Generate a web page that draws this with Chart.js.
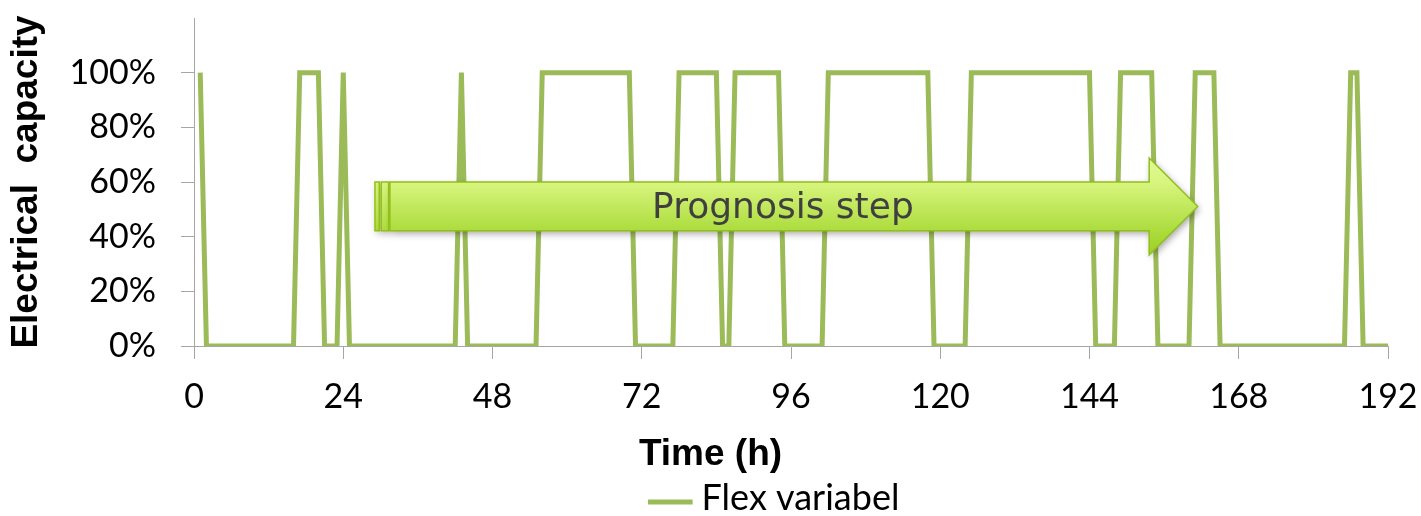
<!DOCTYPE html>
<html>
<head>
<meta charset="utf-8">
<script src="https://cdn.jsdelivr.net/npm/chart.js@4/dist/chart.umd.min.js"></script>
<style>
  html, body { margin: 0; padding: 0; background: #fff; }
</style>
</head>
<body>
<canvas id="chart" width="1421" height="516"></canvas>
<script>
// hourly flex operation, hour 1..192 (100 = full electrical capacity), one row per day
const flexValues = [
  100, 0, 0, 0, 0, 0, 0, 0, 0, 0, 0, 0, 0, 0, 0, 0, 100, 100, 100, 100, 0, 0, 0, 100,
  0, 0, 0, 0, 0, 0, 0, 0, 0, 0, 0, 0, 0, 0, 0, 0, 0, 0, 100, 0, 0, 0, 0, 0,
  0, 0, 0, 0, 0, 0, 0, 100, 100, 100, 100, 100, 100, 100, 100, 100, 100, 100, 100, 100, 100, 100, 0, 0,
  0, 0, 0, 0, 0, 100, 100, 100, 100, 100, 100, 100, 0, 0, 100, 100, 100, 100, 100, 100, 100, 100, 0, 0,
  0, 0, 0, 0, 0, 100, 100, 100, 100, 100, 100, 100, 100, 100, 100, 100, 100, 100, 100, 100, 100, 100, 0, 0,
  0, 0, 0, 0, 100, 100, 100, 100, 100, 100, 100, 100, 100, 100, 100, 100, 100, 100, 100, 100, 100, 100, 100, 100,
  0, 0, 0, 0, 100, 100, 100, 100, 100, 100, 0, 0, 0, 0, 0, 0, 100, 100, 100, 100, 0, 0, 0, 0,
  0, 0, 0, 0, 0, 0, 0, 0, 0, 0, 0, 0, 0, 0, 0, 0, 0, 100, 100, 0, 0, 0, 0, 0
];
const hours = flexValues.map((v, i) => i + 1);
const hourTicks = [0, 24, 48, 72, 96, 120, 144, 168, 192];
const capacityTicks = [0, 20, 40, 60, 80, 100];

// "Prognosis step" arrow, in hours / percent
const arrowX = { start: 29.1, stripe1End: 29.8, stripe2Start: 30.1, stripe2End: 31.3, body: 31.5, headBase: 153.6, tip: 161.4 };
const arrowY = { headTop: 68.8, bodyTop: 60, bodyBottom: 42.2, headBottom: 33.3 };
const arrowLabel = 'Prognosis step';

const lineColor = '#9bbb59';
const axisColor = '#a6a6a6';

// legend sample: short line with a small gap before the text
const legendLine = document.createElement('canvas');
legendLine.width = 71;
legendLine.height = 16;
(function () {
  const c = legendLine.getContext('2d');
  c.strokeStyle = lineColor;
  c.lineWidth = 5;
  c.beginPath();
  c.moveTo(0, 12);
  c.lineTo(45, 12);
  c.stroke();
})();

const arrowPlugin = {
  id: 'prognosisArrow',
  afterDatasetsDraw(chart) {
    const ctx = chart.ctx;
    const xs = chart.scales.x;
    const ys = chart.scales.y;
    const px = (h) => xs.getPixelForValue(h);
    const py = (v) => ys.getPixelForValue(v);

    const ht = py(arrowY.headTop), hb = py(arrowY.headBottom);
    const bt = py(arrowY.bodyTop), bb = py(arrowY.bodyBottom);
    const mid = (ht + hb) / 2;

    const grad = ctx.createLinearGradient(0, ht, 0, hb);
    grad.addColorStop(0, '#e1fa95');
    grad.addColorStop(0.25, '#d8f57f');
    grad.addColorStop(0.75, '#acdc3d');
    grad.addColorStop(1, '#9dd024');

    const shapes = [];
    shapes.push((c) => c.rect(px(arrowX.start), bt, px(arrowX.stripe1End) - px(arrowX.start), bb - bt));
    shapes.push((c) => c.rect(px(arrowX.stripe2Start), bt, px(arrowX.stripe2End) - px(arrowX.stripe2Start), bb - bt));
    shapes.push((c) => {
      c.moveTo(px(arrowX.body), bt);
      c.lineTo(px(arrowX.headBase), bt);
      c.lineTo(px(arrowX.headBase), ht);
      c.lineTo(px(arrowX.tip), mid);
      c.lineTo(px(arrowX.headBase), hb);
      c.lineTo(px(arrowX.headBase), bb);
      c.lineTo(px(arrowX.body), bb);
      c.closePath();
    });

    ctx.save();
    ctx.shadowColor = 'rgba(0, 0, 0, 0.35)';
    ctx.shadowBlur = 7;
    ctx.shadowOffsetX = 2;
    ctx.shadowOffsetY = 3;
    ctx.fillStyle = grad;
    shapes.forEach((s) => { ctx.beginPath(); s(ctx); ctx.fill(); });
    ctx.restore();

    ctx.save();
    ctx.strokeStyle = '#93bf1a';
    ctx.lineWidth = 1.5;
    ctx.lineJoin = 'miter';
    shapes.forEach((s) => { ctx.beginPath(); s(ctx); ctx.stroke(); });

    ctx.fillStyle = '#3f3f3f';
    ctx.font = '36px "DejaVu Sans"';
    ctx.textAlign = 'center';
    ctx.textBaseline = 'middle';
    ctx.fillText(arrowLabel, px(94.7), py(50.3));
    ctx.restore();
  }
};

const tickFont = { family: 'Lato', size: 34, lineHeight: 1 };
const titleFont = { family: 'Liberation Sans', size: 37, weight: 'bold' };

new Chart(document.getElementById('chart'), {
  type: 'line',
  data: {
    datasets: [{
      label: 'Flex variabel',
      data: hours.map((h, i) => ({ x: h, y: flexValues[i] })),
      borderColor: lineColor,
      backgroundColor: lineColor,
      borderWidth: 5,
      pointRadius: 0,
      tension: 0,
      fill: false
    }]
  },
  options: {
    responsive: false,
    animation: false,
    layout: { padding: { top: 18, right: 0, bottom: -10, left: 0 } },
    scales: {
      x: {
        type: 'linear',
        min: 0,
        max: 192,
        afterBuildTicks: (s) => { s.ticks = hourTicks.map((v) => ({ value: v })); },
        afterFit: (s) => { s.height = 86.6; s.paddingLeft = 0; s.paddingRight = 0; },
        ticks: { font: tickFont, color: '#000', padding: 21, maxRotation: 0, autoSkip: false },
        grid: { drawOnChartArea: false, tickLength: 13, tickColor: axisColor, tickWidth: 1 },
        border: { color: axisColor, width: 1 }
      },
      y: {
        min: 0,
        max: 120,
        afterBuildTicks: (s) => { s.ticks = capacityTicks.map((v) => ({ value: v })); },
        afterFit: (s) => { s.width = 194; s.paddingTop = 0; s.paddingBottom = 0; },
        ticks: { font: tickFont, color: '#000', padding: 25, callback: (v) => v + '%' },
        grid: { drawOnChartArea: false, tickLength: 13, tickColor: axisColor, tickWidth: 1 },
        border: { color: axisColor, width: 1 },
        title: {
          display: true,
          text: 'Electrical  capacity',
          font: titleFont,
          color: '#000',
          padding: { top: 5, bottom: 0 }
        }
      },
      // empty right margin so the bottom title stays centred on the whole figure
      yRight: {
        position: 'right',
        display: true,
        grid: { display: false },
        border: { display: false },
        ticks: { display: false },
        afterFit: (s) => { s.width = 33; s.paddingTop = 0; s.paddingBottom = 0; }
      }
    },
    plugins: {
      legend: {
        position: 'bottom',
        fullSize: false,
        labels: {
          usePointStyle: true,
          pointStyle: legendLine,
          pointStyleWidth: 1,
          padding: 0,
          color: '#000',
          font: { family: 'Lato', size: 36 }
        }
      },
      title: {
        display: true,
        position: 'bottom',
        weight: 500,
        text: 'Time (h)',
        font: titleFont,
        color: '#000',
        padding: { top: 0, bottom: 3 }
      },
      tooltip: { enabled: false }
    }
  },
  plugins: [arrowPlugin]
});
</script>
</body>
</html>
